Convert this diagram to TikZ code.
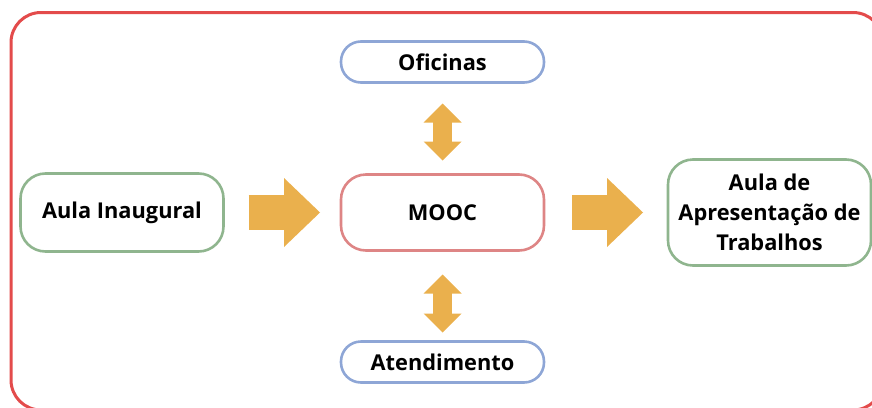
\documentclass[tikz,border=0pt]{standalone}
\usepackage{xcolor}
\usepackage{tikz}
\usepackage{fontspec}
\setmainfont{Open Sans}
\usetikzlibrary{arrows.meta}

\definecolor{framered}{HTML}{E34B4B}
\definecolor{boxgreen}{HTML}{8FB58E}
\definecolor{boxpink}{HTML}{DE8585}
\definecolor{boxblue}{HTML}{8EA6D6}
\definecolor{arroworange}{HTML}{EAB04D}

\tikzset{
  etapa/.style={draw, line width=2.6pt, rounded corners=25pt, outer sep=0pt,
    minimum width=203pt, minimum height=78pt, align=center,
    font=\fontsize{21.8}{30}\selectfont\bfseries},
  extra/.style={etapa, draw=boxblue, minimum height=41pt, rounded corners=20pt},
  bigarrow/.style={draw=arroworange, line width=35pt,
    -{Triangle[length=36pt,width=69pt,line width=0pt]}},
  duparrow/.style={draw=arroworange, line width=19pt, line cap=rect,
    {Triangle[length=19pt,width=38pt,line width=0pt]}-{Triangle[length=19pt,width=38pt,line width=0pt]}}
}

\begin{document}
\begin{tikzpicture}[x=1pt,y=-1pt]
\useasboundingbox (0,0) rectangle (872,407);
\clip (0,0) rectangle (872,407);
\draw [framered, line width=3pt, rounded corners=30pt] (11,12.5) rectangle (883,410);

\node[etapa, draw=boxgreen] (aula) at (122,212.5) {Aula Inaugural};
\node[etapa, draw=boxpink, minimum height=76pt] (mooc) at (442.5,212.5) {MOOC};
\node[etapa, draw=boxgreen, minimum height=106pt] (apres) at (769.5,212.5) {Aula de\\Apresentação de\\Trabalhos};
\node[extra] (oficinas) at (442.5,62) {Oficinas};
\node[extra] (atend) at (442.5,362) {Atendimento};

\draw [bigarrow, shorten <=25pt, shorten >=21pt] (aula) -- (mooc);
\draw [bigarrow, shorten <=28pt, shorten >=25pt] (mooc) -- (apres);
\draw [duparrow, shorten <=21pt, shorten >=14pt] (oficinas) -- (mooc);
\draw [duparrow, shorten <=24pt, shorten >=9pt] (mooc) -- (atend);
\end{tikzpicture}
\end{document}
